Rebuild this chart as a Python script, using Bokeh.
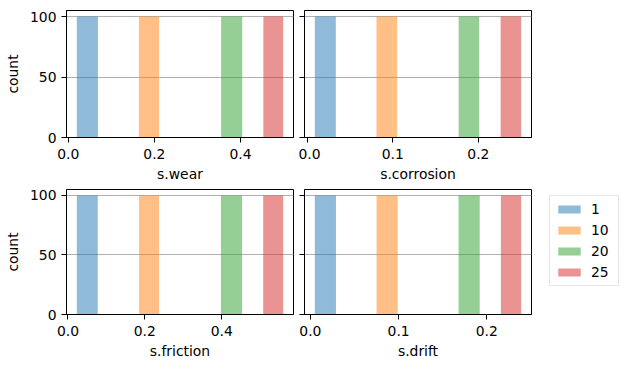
from bokeh.plotting import figure
from bokeh.layouts import column, row
from bokeh.models import Range1d, FixedTicker, PrintfTickFormatter, Legend, LegendItem
from bokeh.embed import file_html
from bokeh.resources import INLINE

SERIES = ["1", "10", "20", "25"]
COLORS = ["#1f77b4", "#ff7f0e", "#2ca02c", "#d62728"]
COUNTS = [100, 100, 100, 100]

wear_left = [0.020, 0.164, 0.355, 0.453]
wear_right = [0.069, 0.211, 0.404, 0.499]
corrosion_left = [0.009, 0.081, 0.177, 0.226]
corrosion_right = [0.0335, 0.105, 0.201, 0.250]
friction_left = [0.023, 0.185, 0.398, 0.508]
friction_right = [0.0775, 0.237, 0.453, 0.560]
drift_left = [0.005, 0.075, 0.168, 0.216]
drift_right = [0.029, 0.099, 0.192, 0.239]

ticks_a = [0.0, 0.2, 0.4]
ticks_b = [0.0, 0.1, 0.2]
yticks = [0, 50, 100]

FONT = "DejaVu Sans"
FS = "13.9px"


def make(lefts, rights, xlabel, xticks, left_col, width, height, bl, br, bt, bb):
    lo, hi = min(lefts), max(rights)
    pad = 0.05 * (hi - lo)
    p = figure(width=width, height=height,
               x_range=Range1d(lo - pad, hi + pad),
               y_range=Range1d(0, max(COUNTS) * 1.05),
               output_backend="svg", toolbar_location=None, tools="",
               min_border_left=bl, min_border_right=br,
               min_border_top=bt, min_border_bottom=bb)
    rends = []
    for l, r, c, col in zip(lefts, rights, COUNTS, COLORS):
        rr = p.quad(left=[l], right=[r], bottom=[0], top=[c],
                    fill_color=col, fill_alpha=0.5, line_color=None)
        rends.append(rr)
    p.outline_line_color = "black"
    p.outline_line_width = 1
    p.outline_line_alpha = 1
    p.xgrid.visible = False
    p.ygrid.grid_line_color = "#b0b0b0"
    p.ygrid.grid_line_width = 1
    for ax in (p.xaxis[0], p.yaxis[0]):
        ax.axis_line_color = "black"
        ax.major_tick_line_color = "black"
        ax.major_tick_out = 5
        ax.major_tick_in = 0
        ax.minor_tick_out = 0
        ax.minor_tick_in = 0
        ax.major_label_text_font = FONT
        ax.major_label_text_font_size = FS
        ax.major_label_text_color = "black"
        ax.axis_label_text_font = FONT
        ax.axis_label_text_font_size = FS
        ax.axis_label_text_font_style = "normal"
        ax.axis_label_text_color = "black"
    p.xaxis[0].ticker = FixedTicker(ticks=xticks)
    p.xaxis[0].formatter = PrintfTickFormatter(format="%.1f")
    p.xaxis[0].major_label_standoff = 6
    p.xaxis[0].axis_label = xlabel
    p.xaxis[0].axis_label_standoff = 4
    p.yaxis[0].ticker = FixedTicker(ticks=yticks)
    if left_col:
        p.yaxis[0].major_label_standoff = 5
        p.yaxis[0].axis_label = "count"
        p.yaxis[0].axis_label_standoff = 6
    else:
        p.yaxis[0].major_label_overrides = {0: "", 50: "", 100: ""}
        p.yaxis[0].major_label_standoff = 0
    return p, rends


p1, _ = make(wear_left, wear_right, "s.wear", ticks_a, True, 298, 184, 66, 5, 10, 46)
p2, _ = make(corrosion_left, corrosion_right, "s.corrosion", ticks_b, False, 245, 184, 6, 12, 10, 46)
p3, _ = make(friction_left, friction_right, "s.friction", ticks_a, True, 298, 177, 66, 5, 5, 44)
p4, _ = make(drift_left, drift_right, "s.drift", ticks_b, False, 245, 177, 6, 12, 5, 44)

# legend holder: hidden copies of the last panel's bars supply the legend glyphs
p5 = figure(width=78, height=177, output_backend="svg", toolbar_location=None, tools="",
            x_axis_location=None, y_axis_location=None,
            min_border_left=0, min_border_right=0, min_border_top=0, min_border_bottom=0)
p5.outline_line_color = None
p5.grid.visible = False
leg_rends = []
for l, r, c, col in zip(drift_left, drift_right, COUNTS, COLORS):
    rr = p5.quad(left=[l], right=[r], bottom=[0], top=[c], fill_color=col,
                 fill_alpha=0.5, line_color=None)
    rr.visible = False
    leg_rends.append(rr)

legend = Legend(items=[LegendItem(label=s, renderers=[r]) for s, r in zip(SERIES, leg_rends)],
                location="top_left")
legend.glyph_width = 28
legend.glyph_height = 10
legend.label_height = 14
legend.label_width = 22
legend.label_standoff = 8
legend.spacing = 5
legend.padding = 5
legend.margin = 6
legend.label_text_font = FONT
legend.label_text_font_size = FS
legend.label_text_color = "black"
legend.border_line_color = "#cccccc"
legend.border_line_width = 1
legend.background_fill_color = "white"
legend.background_fill_alpha = 0.8
p5.add_layout(legend, "center")

layout = column(row(p1, p2), row(p3, p4, p5))

open("out.html", "w").write(file_html(layout, INLINE))
